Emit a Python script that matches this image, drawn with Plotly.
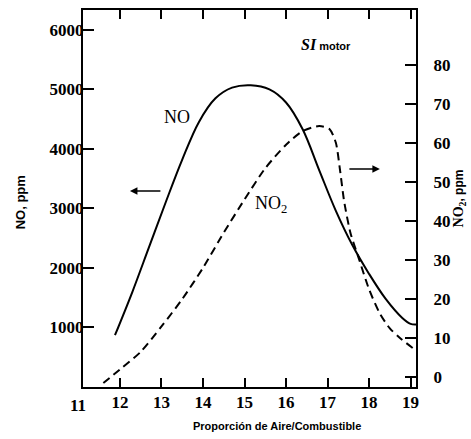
import plotly.graph_objects as go

# NO curve (left axis, ppm)
no_afr = [11.88, 12.3, 12.7, 13.1, 13.5, 13.9, 14.3, 14.7, 15.15, 15.6, 16.0, 16.4, 16.8, 17.2, 17.6, 18.0, 18.4, 18.8, 19.0, 19.13]
no_ppm = [870, 1600, 2350, 3100, 3820, 4450, 4850, 5030, 5070, 5000, 4780, 4330, 3640, 2960, 2380, 1900, 1480, 1160, 1060, 1050]

# NO2 curve (right axis, ppm)
no2_afr = [11.6, 12.0, 12.5, 13.0, 13.5, 14.0, 14.5, 15.0, 15.5, 16.0, 16.4, 16.8, 17.05, 17.2, 17.3, 17.4, 17.55, 17.75, 18.0, 18.25, 18.5, 18.75, 19.05]
no2_ppm = [-1.5, 2.0, 6.5, 13.0, 20.0, 28.0, 37.0, 45.5, 53.5, 59.5, 63.0, 64.3, 63.5, 60.0, 53.0, 45.0, 37.0, 30.5, 22.5, 16.5, 12.5, 10.0, 7.5]

x_ticks = [11, 12, 13, 14, 15, 16, 17, 18, 19]
left_ticks = [1000, 2000, 3000, 4000, 5000, 6000]
right_ticks = [0, 10, 20, 30, 40, 50, 60, 70, 80]

x_range = [11.11, 19.13]
tickfont = dict(family="Liberation Serif", size=17, color="black", weight="bold")

fig = go.Figure()
fig.add_trace(go.Scatter(x=no_afr, y=no_ppm, mode="lines", name="NO",
                         line=dict(color="black", width=2, shape="spline", smoothing=1.0)))
fig.add_trace(go.Scatter(x=no2_afr, y=no2_ppm, mode="lines", name="NO2", yaxis="y2",
                         line=dict(color="black", width=2, dash="8px,5px", shape="spline", smoothing=0.7)))

# the first tick (11) lies just left of the plotted range; show its label like the original
first_tick_paper = (x_ticks[0] - x_range[0]) / (x_range[1] - x_range[0])

fig.update_layout(
    width=471, height=439,
    margin=dict(l=83, r=55, t=8, b=52),
    paper_bgcolor="white", plot_bgcolor="white",
    showlegend=False,
    xaxis=dict(range=x_range, tickvals=x_ticks, ticks="inside", ticklen=9, tickwidth=2,
               tickcolor="black", showline=True, linecolor="black", linewidth=2, mirror="ticks",
               showgrid=False, zeroline=False, tickfont=tickfont, ticklabelstandoff=-1),
    yaxis=dict(range=[0, 6334], tickvals=left_ticks, ticks="inside", ticklen=11, tickwidth=2,
               tickcolor="black", showline=True, linecolor="black", linewidth=2,
               showgrid=False, zeroline=False, tickfont=tickfont, ticklabelstandoff=-6),
    yaxis2=dict(range=[-2.5, 94], tickvals=right_ticks, ticks="inside", ticklen=11, tickwidth=2,
                tickcolor="black", showline=True, linecolor="black", linewidth=2, overlaying="y", side="right",
                showgrid=False, zeroline=False, tickfont=tickfont, ticklabelstandoff=12),
    annotations=[
        dict(text=str(x_ticks[0]), x=first_tick_paper, y=0, xref="paper", yref="paper",
             yanchor="top", xanchor="center", yshift=-7, showarrow=False, font=tickfont),
        dict(text="Proporción de Aire/Combustible", xref="paper", yref="paper", x=0.583, y=-0.103,
             xanchor="center", yanchor="middle",
             showarrow=False, font=dict(family="Liberation Sans", size=11, color="black", weight="bold")),
        dict(text="NO, ppm", xref="paper", yref="paper", x=-0.189, y=0.49, textangle=-90,
             xanchor="center", yanchor="middle",
             showarrow=False, font=dict(family="Liberation Sans", size=13, color="black", weight="bold")),
        dict(text="<span style='font-family:Liberation Serif;font-size:14px'>NO<sub>2</sub></span>, ppm",
             xref="paper", yref="paper", x=1.132, y=0.50, textangle=-90,
             xanchor="center", yanchor="middle",
             showarrow=False, font=dict(family="Liberation Sans", size=12, color="black", weight="bold")),
        dict(text="<span style='font-family:Liberation Serif;font-size:16px'><b><i>SI</i></b></span> <b>motor</b>",
             xref="paper", yref="paper", x=0.73, y=0.908, xanchor="center", yanchor="middle", showarrow=False,
             font=dict(family="Liberation Sans", size=11, color="black")),
        dict(text="NO", x=13.38, y=4528, xref="x", yref="y", showarrow=False,
             font=dict(family="Liberation Serif", size=18, color="black")),
        dict(text="NO<sub>2</sub>", x=15.63, y=3073, xref="x", yref="y", showarrow=False,
             font=dict(family="Liberation Serif", size=18, color="black")),
        dict(text="", x=12.24, y=3291, xref="x", yref="y", showarrow=True, ax=32, ay=0,
             arrowhead=2, arrowsize=1, arrowwidth=1.5, arrowcolor="black"),
        dict(text="", x=18.26, y=53.3, xref="x", yref="y2", showarrow=True, ax=-32, ay=0,
             arrowhead=2, arrowsize=1, arrowwidth=1.5, arrowcolor="black"),
    ],
)

fig.write_html("out.html", config={"displayModeBar": False},
               post_script="document.body.style.margin='0';document.body.style.overflow='hidden';")
